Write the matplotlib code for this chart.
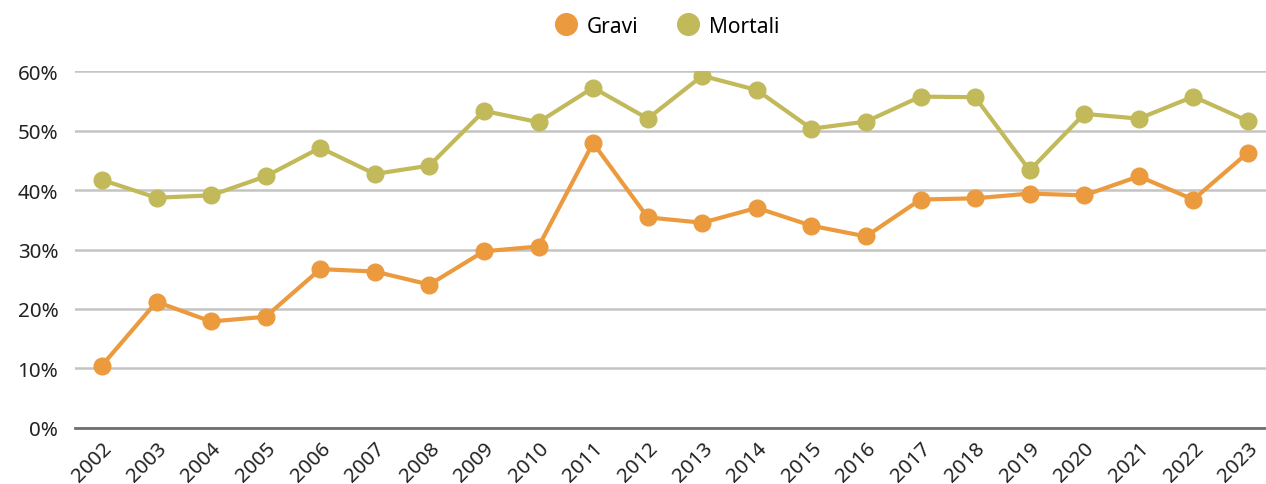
import numpy as np
import matplotlib.pyplot as plt
from matplotlib.ticker import PercentFormatter

plt.rcParams['font.family'] = ['Noto Sans', 'DejaVu Sans']

years = list(range(2002, 2024))
gravi = [10.5, 21.2, 17.9, 18.7, 26.7, 26.3, 24.1, 29.7, 30.5, 47.9, 35.4,
         34.5, 37.0, 34.0, 32.2, 38.4, 38.6, 39.4, 39.1, 42.3, 38.4, 46.3]
mortali = [41.7, 38.7, 39.1, 42.3, 47.1, 42.7, 44.1, 53.3, 51.4, 57.2, 52.0,
           59.2, 56.8, 50.3, 51.5, 55.7, 55.6, 43.3, 52.8, 52.0, 55.7, 51.6]

fig = plt.figure(figsize=(12.66, 4.85), dpi=100)
ax = fig.add_axes([0.0592, 0.1155, 0.9408, 0.736])

ax.plot(years, gravi, color='#ec9a3e', lw=3, marker='o', ms=12, label='Gravi', zorder=3)
ax.plot(years, mortali, color='#c2b95a', lw=3, marker='o', ms=12, label='Mortali', zorder=3)

ax.set_ylim(0, 60)
ax.set_xlim(2002 - 0.495, 2023.33)
ax.set_yticks(range(0, 61, 10))
ax.yaxis.set_major_formatter(PercentFormatter(decimals=0))
ax.set_xticks(years)
ax.set_xticklabels([str(y) for y in years], rotation=45, ha='right', rotation_mode='anchor')
ax.tick_params(axis='both', length=0, labelsize=14.8, colors='#222222')
ax.tick_params(axis='x', pad=7)
ax.tick_params(axis='y', pad=12)

ax.grid(axis='y', color='#c4c4c4', lw=1.8)
ax.set_axisbelow(True)
for s in ['top', 'right', 'left']:
    ax.spines[s].set_visible(False)
ax.spines['bottom'].set_color('#707070')
ax.spines['bottom'].set_linewidth(2)
ax.spines['bottom'].set_zorder(2)

fig.legend(loc='center', bbox_to_anchor=(0.528, 0.944), ncol=2, frameon=False,
           fontsize=15, handlelength=0.8, handletextpad=0.6, columnspacing=2.0,
           markerscale=1.3)
leg = fig.legends[0]
for h in leg.legend_handles:
    h.set_linestyle('none')

fig.savefig('out.png', dpi=100)
